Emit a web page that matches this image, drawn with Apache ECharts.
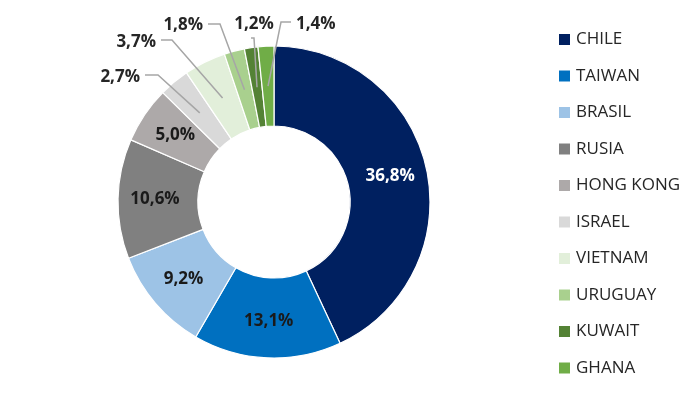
<!DOCTYPE html>
<html>
<head>
<meta charset="utf-8">
<script src="https://cdn.jsdelivr.net/npm/echarts@6/dist/echarts.min.js"></script>
<style>
	html, body { margin: 0; padding: 0; background: #fff; }
	#chart { width: 700px; height: 405px; }
</style>
</head>
<body>
<div id="chart"></div>
<script>
	//datos
	var paises = ['CHILE', 'TAIWAN', 'BRASIL', 'RUSIA', 'HONG KONG', 'ISRAEL', 'VIETNAM', 'URUGUAY', 'KUWAIT', 'GHANA'];
	var valores = [36.8, 13.1, 9.2, 10.6, 5.0, 2.7, 3.7, 1.8, 1.2, 1.4];
	var colores = ['#002060', '#0070C0', '#9DC3E6', '#808080', '#ADA9A9', '#D9D9D9', '#E2EFDA', '#A9D08E', '#548235', '#70AD47'];

	var centro = [274, 202];
	var radios = [76, 156];
	//etiquetas exteriores: posicion del texto y punto de codo de la linea
	var etiquetasFuera = {
		5: { x: 140, y: 77, align: 'right', codo: [158, 75] },
		6: { x: 156, y: 42, align: 'right', codo: [172, 40] },
		7: { x: 203, y: 25, align: 'right', codo: [220, 24] },
		8: { x: 254, y: 24, align: 'center', codo: [254, 38], abajo: true },
		9: { x: 296, y: 24, align: 'left', codo: [281, 22] }
	};

	function fmt(v) {
		return v.toFixed(1).replace('.', ',') + '%';
	}

	//punto medio del anillo de cada porcion
	var total = valores.reduce(function(a, b) { return a + b; }, 0);
	function puntoMedio(i) {
		var acum = 0;
		for(var k = 0; k < i; k++) acum += valores[k];
		var ang = (acum + valores[i] / 2) / total * Math.PI * 2;
		var r = (radios[0] + radios[1]) / 2;
		return [centro[0] + r * Math.sin(ang), centro[1] - r * Math.cos(ang)];
	}

	var estiloTexto = {
		formatter: function(p) { return fmt(p.value); },
		fontFamily: 'Open Sans',
		fontWeight: 'bold',
		fontSize: 17
	};

	//anillo con etiquetas interiores
	var datosAnillo = paises.map(function(p, i) {
		return {
			name: p,
			value: valores[i],
			itemStyle: { color: colores[i] },
			label: etiquetasFuera[i] ? { show: false } : {
				show: true,
				position: 'inside',
				color: i === 0 ? '#ffffff' : '#1a1a1a'
			}
		};
	});
	//copia transparente encima, solo para las etiquetas exteriores y sus lineas
	var datosFuera = paises.map(function(p, i) {
		var fuera = !!etiquetasFuera[i];
		return {
			name: p,
			value: valores[i],
			label: { show: fuera, position: 'outside', color: '#262626' },
			labelLine: { show: fuera }
		};
	});

	var option = {
		animation: false,
		legend: {
			orient: 'vertical',
			left: 552,
			top: 26,
			itemWidth: 13,
			itemHeight: 13,
			itemGap: 19.5,
			icon: 'rect',
			data: paises,
			textStyle: {
				fontFamily: 'Open Sans',
				fontSize: 17,
				color: '#262626'
			}
		},
		series: [{
			type: 'pie',
			z: 2,
			center: centro,
			radius: radios,
			startAngle: 90,
			clockwise: true,
			avoidLabelOverlap: false,
			itemStyle: {
				borderColor: '#ffffff',
				borderWidth: 1.2
			},
			label: estiloTexto,
			labelLine: { show: false },
			data: datosAnillo
		}, {
			type: 'pie',
			z: 3,
			silent: true,
			legendHoverLink: false,
			center: centro,
			radius: radios,
			startAngle: 90,
			clockwise: true,
			avoidLabelOverlap: false,
			itemStyle: {
				color: 'rgba(0,0,0,0)',
				borderWidth: 0
			},
			label: estiloTexto,
			labelLine: {
				lineStyle: { color: '#A6A6A6', width: 1.5, opacity: 1 }
			},
			labelLayout: function(params) {
				var e = etiquetasFuera[params.dataIndex];
				if(!e) return {};
				var pm = puntoMedio(params.dataIndex);
				var fin;
				if(e.abajo) {
					fin = [e.codo[0] - 3, e.codo[1]];
				} else if(e.align === 'right') {
					fin = [e.x + 5, e.codo[1]];
				} else {
					fin = [e.x - 5, e.codo[1]];
				}
				return {
					x: e.x,
					y: e.y,
					align: e.align,
					verticalAlign: 'middle',
					labelLinePoints: [pm, e.codo, fin]
				};
			},
			data: datosFuera
		}]
	};
	var chart = echarts.init(document.getElementById('chart'));
	chart.setOption(option);
</script>
</body>
</html>
